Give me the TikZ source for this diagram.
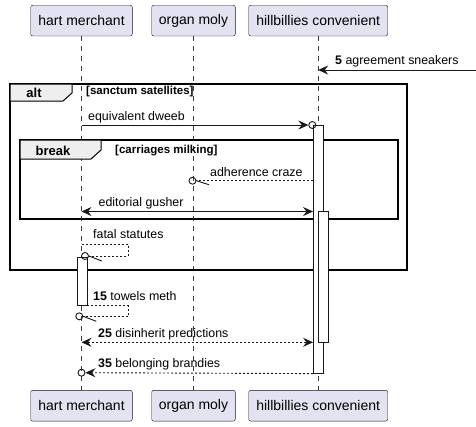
\documentclass[tikz,border=0pt]{standalone}
\usepackage{fontspec}
\setmainfont{Liberation Sans}
\usetikzlibrary{arrows.meta}
\definecolor{pbox}{HTML}{E2E2F0}
\definecolor{pline}{HTML}{181818}
\definecolor{tabgray}{HTML}{EEEEEE}

\tikzset{
	actor/.style = {draw = pline, fill = pbox, rounded corners = 2pt,
		minimum height = 30.7pt, inner sep = 0pt, font = \fontsize{14}{16}\selectfont},
	lifeline/.style = {draw = pline!85, line width = .6pt, dash pattern = on 5pt off 5pt},
	msg/.style = {draw = pline, line width = .9pt},
	reply/.style = {msg, dash pattern = on 2pt off 2pt},
	tip/.style = {-{Stealth[length = 10pt, width = 9pt, inset = 3.5pt]}},
	tips/.style = {{Stealth[length = 10pt, width = 9pt, inset = 3.5pt]}-{Stealth[length = 10pt, width = 9pt, inset = 3.5pt]}},
	dot/.style = {circle, draw = pline, line width = .9pt, inner sep = 0pt, minimum size = 7pt},
	bar/.style = {draw = pline, fill = white, line width = .9pt, inner sep = 0pt, minimum width = 10pt},
	lbl/.style = {anchor = base west, inner sep = 0pt, font = \fontsize{12.4}{14}\selectfont},
	frame/.style = {draw = black, line width = 1.6pt},
	tab/.style = {draw = black, line width = 1pt, fill = tabgray},
	framename/.style = {anchor = base, inner sep = 0pt, font = \bfseries\fontsize{13}{15}\selectfont},
	guard/.style = {anchor = base west, inner sep = 0pt, font = \bfseries\fontsize{11.5}{13}\selectfont},
}

\begin{document}
\begin{tikzpicture} [x = 1pt, y = -1pt]
\useasboundingbox (0,0) rectangle (476,426);

% participants and lifelines:
\foreach \name/\txt/\x/\w in {hart/hart merchant/81.5/101.6,
	organ/organ moly/193.5/83.6, hill/hillbillies convenient/318.2/139} {
	\draw [lifeline] (\x,36) -- (\x,390.5);
	\node [actor, minimum width = \w pt] (\name T) at (\x,20.6) {\txt};
	\node [actor, minimum width = \w pt] (\name B) at (\x,405.7) {\txt};
}

% alt frame:
\draw [frame] (10,84) rectangle (407,270);
\draw [tab] (10,84) -- (72,84) -- (72,93) -- (63,101) -- (10,101) -- cycle;
\node [framename] (altN) at (34,97) {alt};
\node [guard] (altG) at (86,94.5) {[sanctum satellites]};

% break frame:
\draw [frame] (20,140) rectangle (398,219);
\draw [tab] (20,140) -- (101,140) -- (101,150) -- (91,159) -- (20,159) -- cycle;
\node [framename] (brkN) at (53,155) {break};
\node [guard] (brkG) at (115,153) {[carriages milking]};

% activations:
\node [bar, minimum height = 247.7pt, anchor = north] (hillA) at (318.5,125) {};
\node [bar, minimum height = 131pt, anchor = north] (hillA2) at (323.5,211) {};
\node [bar, minimum height = 48pt, anchor = north] (hartA) at (82,257) {};

% incoming message:
\coordinate (in5) at (476,70);
\draw [msg, tip] (in5) -- (hillT |- in5);
\node [lbl] (m5) at (335,64) {\textbf{5} agreement sneakers};

% equivalent dweeb:
\node [dot] (d1) at (312.3,125) {};
\draw [msg, tip] (hartT |- d1) -- (d1.west);
\node [lbl] (m1) at (88,120) {equivalent dweeb};

% adherence craze:
\node [dot] (d2) at (192.5,180.7) {};
\draw [reply] (hillA.west |- d2) -- (d2.east);
\draw [msg] (d2.east) -- ++(12.5,4);
\node [lbl] (m2) at (210,176) {adherence craze};

% editorial gusher:
\coordinate (g) at (0,211.5);
\draw [msg, tips] (hartT |- g) -- (hillA.west |- g);
\node [lbl] (m3) at (98.5,206.5) {editorial gusher};

% fatal statutes (self):
\node [dot] (d3) at (85,256) {};
\coordinate (s1) at (81.5,244.3);
\draw [reply] (s1) -- ++(46.5,0) |- (d3.east);
\draw [msg] (d3.east) -- ++(13,5);
\node [lbl] (m4) at (93,238.5) {fatal statutes};

% towels meth (self):
\node [dot] (d4) at (79.3,316.3) {};
\draw [reply] (hartA.south east) -- ++(41,0) |- (d4.east);
\draw [msg] (d4.east) -- ++(13,5);
\node [lbl] (m5b) at (93,300) {\textbf{15} towels meth};

% disinherit predictions:
\coordinate (p) at (0,342.3);
\draw [reply, tips] (hartT |- p) -- (hillA.west |- p);
\node [lbl] (m6) at (98,337.3) {\textbf{25} disinherit predictions};

% belonging brandies:
\node [dot] (d5) at (81.5,372.7) {};
\draw [reply, tip] (hillA.south west) -- (d5.east);
\node [lbl] (m7) at (98,367.5) {\textbf{35} belonging brandies};
\end{tikzpicture}
\end{document}
